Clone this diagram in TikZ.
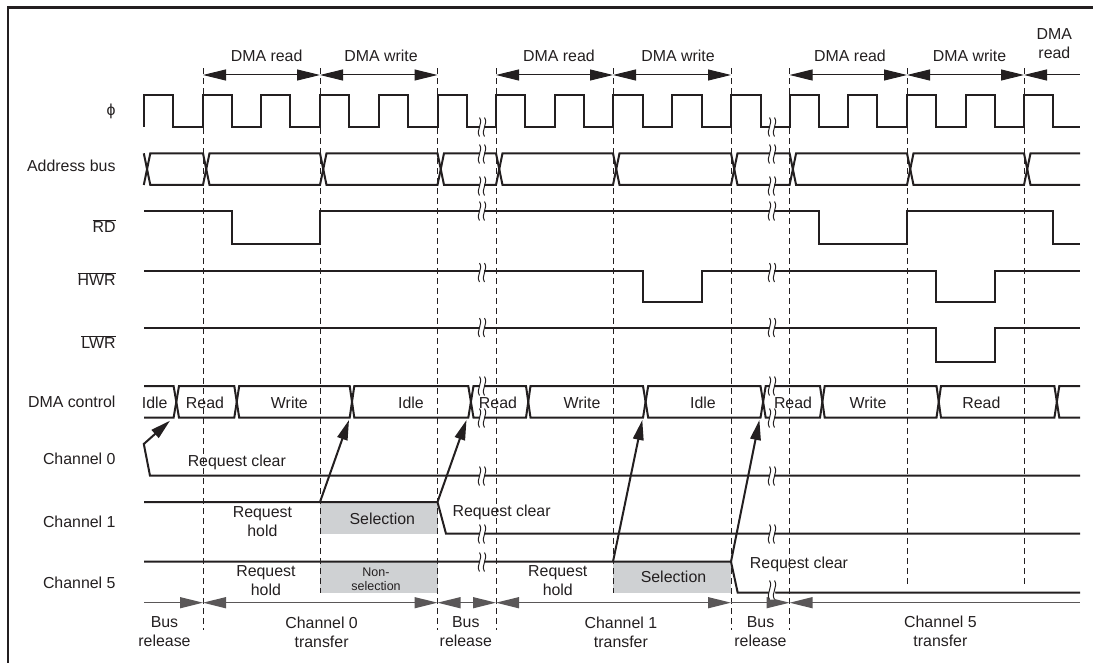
\documentclass[tikz,border=0pt]{standalone}
\usepackage{fontspec}
\setmainfont{Liberation Sans}
\usetikzlibrary{arrows.meta}
\definecolor{ink}{HTML}{231F20}
\definecolor{shade}{HTML}{CFD1D3}
\newcommand{\signalbreak}[2]{%
\begin{scope}[shift={(#1,#2)}]
\fill[white] (-2.5,-9.5) .. controls (1.5,-3) and (-6.5,3) .. (-2.5,9.5) -- (2.5,9.5) .. controls (6.5,3) and (-1.5,-3) .. (2.5,-9.5) -- cycle;
\draw[ink,line width=1] (-2.5,-9.5) .. controls (1.5,-3) and (-6.5,3) .. (-2.5,9.5);
\draw[ink,line width=1] (2.5,-9.5) .. controls (6.5,-3) and (-1.5,3) .. (2.5,9.5);
\end{scope}}
\begin{document}
\begin{tikzpicture}[x=1pt,y=-1pt,
  every node/.style={font=\fontsize{15.9}{19}\selectfont,text=ink,inner sep=0pt},
  sig/.style={draw=ink,line width=2,line join=miter},
  guide/.style={draw=ink,line width=0.95,dash pattern=on 5.5pt off 4.5pt},
  span/.style={draw=ink,line width=1,>={Triangle[length=23pt,width=11pt]}},
  rail/.style={draw=ink!75,line width=1.3,>={Triangle[length=23pt,width=11pt]}},
  cause/.style={draw=ink,line width=2,->,>={Triangle[length=20pt,width=10.5pt]}},
  tag/.style={anchor=east},
  shaded/.style={fill=shade,draw=none}]
\useasboundingbox (0,0) rectangle (1093,663);
\draw[ink,line width=2.3] (7.7,663) -- (7.7,7.5) -- (1093,7.5);
% shaded request boxes
\path[shaded] (320,502) rectangle (437.5,533.7);
\path[shaded] (320,561.7) rectangle (437.5,593.3);
\path[shaded] (613,561.7) rectangle (731,593.3);
% guides
\coordinate (g1t) at (203,68.3); \coordinate (g1b) at (203,630);
\coordinate (g2t) at (320,68.3); \coordinate (g2b) at (320,593);
\coordinate (g3t) at (437.5,68.3); \coordinate (g3b) at (437.5,630);
\coordinate (g4t) at (496,68.3); \coordinate (g4b) at (496,630);
\coordinate (g5t) at (613,68.3); \coordinate (g5b) at (613,593);
\coordinate (g6t) at (731,68.3); \coordinate (g6b) at (731,630);
\coordinate (g7t) at (789.6,68.3); \coordinate (g7b) at (789.6,630);
\coordinate (g8t) at (907,68.3); \coordinate (g8b) at (907,587);
\coordinate (g9t) at (1024,68.3); \coordinate (g9b) at (1024,587);
\draw[guide] (g1t) -- (g1b);
\draw[guide] (g2t) -- (g2b);
\draw[guide] (g3t) -- (g3b);
\draw[guide] (g4t) -- (g4b);
\draw[guide] (g5t) -- (g5b);
\draw[guide] (g6t) -- (g6b);
\draw[guide] (g7t) -- (g7b);
\draw[guide] (g8t) -- (g8b);
\draw[guide] (g9t) -- (g9b);
% top spans
\coordinate (t1) at (203,75); \coordinate (t2) at (320,75); \coordinate (t3) at (437.5,75);
\coordinate (t4) at (496,75); \coordinate (t5) at (613,75); \coordinate (t6) at (731,75);
\coordinate (t7) at (789.6,75); \coordinate (t8) at (907,75); \coordinate (t9) at (1024,75);
\coordinate (t10) at (1080,75);
\draw[span,<->] (t1) -- (t2);
\draw[span,<->] (t2) -- (t3);
\draw[span,<->] (t4) -- (t5);
\draw[span,<->] (t5) -- (t6);
\draw[span,<->] (t7) -- (t8);
\draw[span,<->] (t8) -- (t9);
\draw[span,<-] (t9) -- (t10);
% clock
\draw[sig] (143.8,126.7) |- (172.6,95) |- (202.7,126.7) |- (231.5,95) |- (261.3,126.7) |- (290.4,95) |- (320,126.7) |- (349,95) |- (379,126.7) |- (407.5,95) |- (437.5,126.7) |- (466.5,95) |- (496,126.7) |- (525,95) |- (554.6,126.7) |- (584.4,95) |- (613,126.7) |- (642.6,95) |- (672,126.7) |- (701.5,95) |- (731,126.7) |- (760.5,95) |- (789.6,126.7) |- (819,95) |- (848,126.7) |- (877,95) |- (907,126.7) |- (936,95) |- (965.7,126.7) |- (994.8,95) |- (1024,126.7) |- (1053,95) |- (1079.7,126.7);
% address bus
\draw[sig] (143.8,185) -- (150.3,153.3) -- (203,153.3) -- (209.5,185) -- (320,185) -- (326.5,153.3) -- (437.5,153.3) -- (444,185) -- (496,185) -- (502.5,153.3) -- (613,153.3) -- (619.5,185) -- (731,185) -- (737.5,153.3) -- (789.6,153.3) -- (796.1,185) -- (907,185) -- (913.5,153.3) -- (1024,153.3) -- (1030.5,185) -- (1080,185);
\draw[sig] (143.8,153.3) -- (150.3,185) -- (203,185) -- (209.5,153.3) -- (320,153.3) -- (326.5,185) -- (437.5,185) -- (444,153.3) -- (496,153.3) -- (502.5,185) -- (613,185) -- (619.5,153.3) -- (731,153.3) -- (737.5,185) -- (789.6,185) -- (796.1,153.3) -- (907,153.3) -- (913.5,185) -- (1024,185) -- (1030.5,153.3) -- (1080,153.3);
% strobes
\draw[sig] (144,211.3) -| (231.5,243.7) -| (320,211.3) -| (819,243.7) -| (907,211.3) -| (1053,243.7) -- (1080,243.7);
\draw[sig] (144,271) -| (642.6,302.3) -| (701.5,271) -| (936,302.3) -| (994.8,271) -- (1080,271);
\draw[sig] (144,327.7) -| (936,361.7) -| (994.8,327.7) -- (1080,327.7);
% dma control
\draw[sig] (144,386) -- (173.6,386) -- (179,417.7) -- (234.3,417.7) -- (239.2,386) -- (349.7,386) -- (354.3,417.7) -- (468.3,417.7) -- (473.5,386) -- (526,386) -- (530.5,417.7) -- (643,417.7) -- (648.2,386) -- (760.5,386) -- (765.7,417.7) -- (820,417.7) -- (824.7,386) -- (936.5,386) -- (941,417.7) -- (1054.4,417.7) -- (1059.3,386) -- (1080,386);
\draw[sig] (144,417.7) -- (173.6,417.7) -- (179,386) -- (234.3,386) -- (239.2,417.7) -- (349.7,417.7) -- (354.3,386) -- (468.3,386) -- (473.5,417.7) -- (526,417.7) -- (530.5,386) -- (643,386) -- (648.2,417.7) -- (760.5,417.7) -- (765.7,386) -- (820,386) -- (824.7,417.7) -- (936.5,417.7) -- (941,386) -- (1054.4,386) -- (1059.3,417.7) -- (1080,417.7);
% channels
\coordinate (c0s) at (143.8,444); \coordinate (d0) at (170,420.7);
\draw[cause] (1080,475.7) -- (150,475.7) -- (c0s) -- (d0);
\draw[sig] (144,502) -- (437.5,502) -- (446,533.7) -- (1080,533.7);
\draw[sig] (144,561.7) -- (731,561.7) -- (737.7,592.7) -- (1080,592.7);
\coordinate (c1a) at (320,502); \coordinate (d1) at (349,420);
\coordinate (c1b) at (437.5,502); \coordinate (d2) at (466.5,420);
\coordinate (c5a) at (613,561.7); \coordinate (d3) at (642.3,420);
\coordinate (c5b) at (731,561.7); \coordinate (d4) at (759.4,420);
\draw[cause] (c1a) -- (d1);
\draw[cause] (c1b) -- (d2);
\draw[cause] (c5a) -- (d3);
\draw[cause] (c5b) -- (d4);
% bottom rail
\coordinate (b0) at (144,602.7); \coordinate (b1) at (203,602.7); \coordinate (b2) at (437.5,602.7);
\coordinate (b3) at (496,602.7); \coordinate (b4) at (731,602.7); \coordinate (b5) at (789.6,602.7);
\coordinate (b6) at (1080,602.7);
\draw[rail,->] (b0) -- (b1);
\draw[rail,<->] (b1) -- (b2);
\draw[rail,<->] (b2) -- (b3);
\draw[rail,<->] (b3) -- (b4);
\draw[rail,->] (b4) -- (b5);
\draw[rail,<-] (b5) -- (b6);
% breaks
\signalbreak{482}{127}\signalbreak{482}{154}\signalbreak{482}{186}\signalbreak{482}{211}
\signalbreak{482}{272.5}\signalbreak{482}{327.5}\signalbreak{482}{386}\signalbreak{482}{418}
\signalbreak{482}{476}\signalbreak{482}{534}\signalbreak{482}{562}
\signalbreak{772}{127}\signalbreak{772}{154}\signalbreak{772}{186}\signalbreak{772}{211}
\signalbreak{772}{272.5}\signalbreak{772}{327.5}\signalbreak{772}{386}\signalbreak{772}{418}
\signalbreak{772}{476}\signalbreak{772}{534}\signalbreak{772}{590}
% row labels
\node[tag] (phi) at (115.7,111) {ϕ};
\node[tag] (addr) at (115.7,165.7) {Address bus};
\node[tag] (rd) at (115.7,225.7) {$\overline{\mbox{RD}}$};
\node[tag] (hwr) at (115.7,279) {$\overline{\mbox{HWR}}$};
\node[tag] (lwr) at (115.7,341.7) {$\overline{\mbox{LWR}}$};
\node[tag] (dma) at (115.7,401.7) {DMA control};
\node[tag] (ch0) at (115.7,459.3) {Channel 0};
\node[tag] (ch1) at (115.7,521.7) {Channel 1};
\node[tag] (ch5) at (115.7,583.3) {Channel 5};
% top labels
\node (rd1) at (266.6,55.7) {DMA read};
\node (wr1) at (381,55.7) {DMA write};
\node (rd2) at (559,55.7) {DMA read};
\node (wr2) at (678,55.7) {DMA write};
\node (rd3) at (850,55.7) {DMA read};
\node (wr3) at (969.5,55.7) {DMA write};
\node[align=center] (rd4) at (1054.4,44) {DMA\\read};
% dma states
\node (s1) at (154.7,402.7) {Idle};
\node (s2) at (205,402.7) {Read};
\node (s3) at (289.4,402.7) {Write};
\node (s4) at (411,402.7) {Idle};
\node (s5) at (498,402.7) {Read};
\node (s6) at (582,402.7) {Write};
\node (s7) at (703,402.7) {Idle};
\node (s8) at (793,402.7) {Read};
\node (s9) at (868,402.7) {Write};
\node (s10) at (981.4,402.7) {Read};
% requests
\node (rc0) at (236.8,462.7) {Request clear};
\node (rc1) at (501.6,512.7) {Request clear};
\node (rc5) at (799,564.7) {Request clear};
\node[align=center] (rh1) at (262.4,522) {Request\\hold};
\node[align=center] (rh2) at (265.9,580.5) {Request\\hold};
\node[align=center] (rh3) at (557.8,580.5) {Request\\hold};
\node (sel1) at (382.3,518.7) {Selection};
\node (sel2) at (673.5,576.7) {Selection};
\node[align=center,font=\fontsize{12.5}{13.8}\selectfont] (nsel) at (376,579.5) {Non-\\selection};
% bottom labels
\node[align=center] (br1) at (164.5,632) {Bus\\release};
\node[align=center] (tr0) at (321.6,632) {Channel 0\\transfer};
\node[align=center] (br2) at (465.8,632) {Bus\\release};
\node[align=center] (tr1) at (620.9,632) {Channel 1\\transfer};
\node[align=center] (br3) at (760.5,632) {Bus\\release};
\node[align=center] (tr5) at (940.4,631) {Channel 5\\transfer};
\end{tikzpicture}
\end{document}
